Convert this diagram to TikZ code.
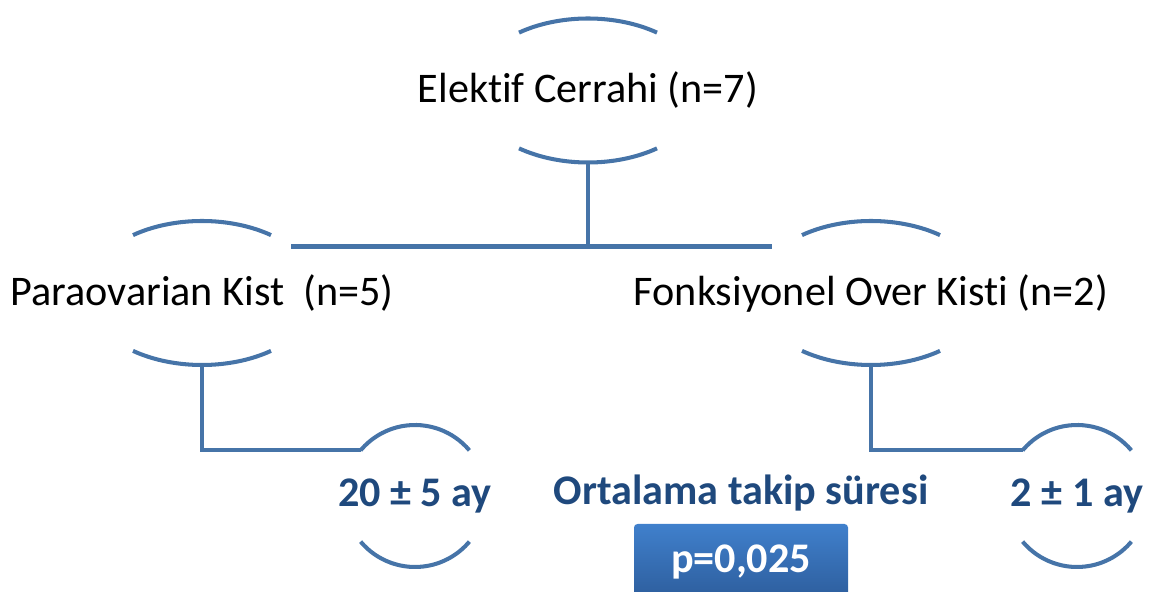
\documentclass[tikz,border=0pt]{standalone}
\usepackage{fontspec}
\setmainfont{Carlito}[RawFeature=-liga]
\usetikzlibrary{positioning}

\definecolor{hatmavi}{RGB}{70,116,168}
\definecolor{yazimavi}{RGB}{31,73,125}
\definecolor{kutuust}{RGB}{64,128,204}
\definecolor{kutualt}{RGB}{45,93,156}

\begin{document}
\begin{tikzpicture}[node distance=2cm,on grid,
    grup/.style={inner sep=0pt,font=\fontsize{24}{28}\selectfont},
    sure/.style={inner sep=0pt,text=yazimavi,font=\bfseries\fontsize{24}{28}\selectfont},
    kutu/.style={rounded corners=2pt,minimum width=4.28cm,minimum height=1.52cm,
      top color=kutuust,bottom color=kutualt,text=white,font=\bfseries\fontsize{24}{28}\selectfont},
    hat/.style={draw=hatmavi,line width=2.3pt}]
    \useasboundingbox (0,0) rectangle (22.98,11.84);
    \clip (0,0) rectangle (22.98,11.84);
    \node[grup] (elektif) at (11.76,10.03) {Elektif Cerrahi (n=7)};
    \node[grup] (para) [below left=4.05cm and 7.72cm of elektif] {Paraovarian Kist\ \ (n=5)};
    \node[grup] (fonk) [right=13.38cm of para] {Fonksiyonel Over Kisti (n=2)};
    \node[sure] (sol) at (8.30,1.92) {20 ± 5 ay};
    \node[sure] (sag) [right=13.24cm of sol] {2 ± 1 ay};
    \node[sure] (ortalama) at (14.82,1.98) {Ortalama takip süresi};
    \node[kutu] (pdeger) [below=1.38cm of ortalama] {p=0,025};
    % baglanti noktalari
    \coordinate[below=1.44cm of elektif] (elektif alt);
    \coordinate[below=1.44cm of para] (para alt);
    \coordinate[below=1.44cm of fonk] (fonk alt);
    \coordinate[below=1.68cm of elektif alt] (bar orta);
    \coordinate[left=5.94cm of bar orta] (bar sol);
    \coordinate[right=3.68cm of bar orta] (bar sag);
    \coordinate (sol giris) at ([shift={(140:1.42)}]sol.center);
    \coordinate (sag giris) at ([shift={(140:1.42)}]sag.center);
    % yaylar
    \foreach \n in {elektif,para,fonk}{
      \draw[hat] (\n.center) ++(53.5:2.32 and 1.44) arc[start angle=53.5,end angle=126.5,x radius=2.32,y radius=1.44];
      \draw[hat] (\n.center) ++(233.5:2.32 and 1.44) arc[start angle=233.5,end angle=306.5,x radius=2.32,y radius=1.44];
    }
    \foreach \n in {sol,sag}{
      \draw[hat] (\n.center) ++(40:1.42) arc[start angle=40,end angle=140,radius=1.42];
      \draw[hat] (\n.center) ++(220:1.42) arc[start angle=220,end angle=320,radius=1.42];
    }
    \draw[hat] (elektif alt) -- (bar orta);
    \draw[hat] (bar sol) -- (bar sag);
    \draw[hat] (para alt) |- (sol giris);
    \draw[hat] (fonk alt) |- (sag giris);
\end{tikzpicture}
\end{document}
